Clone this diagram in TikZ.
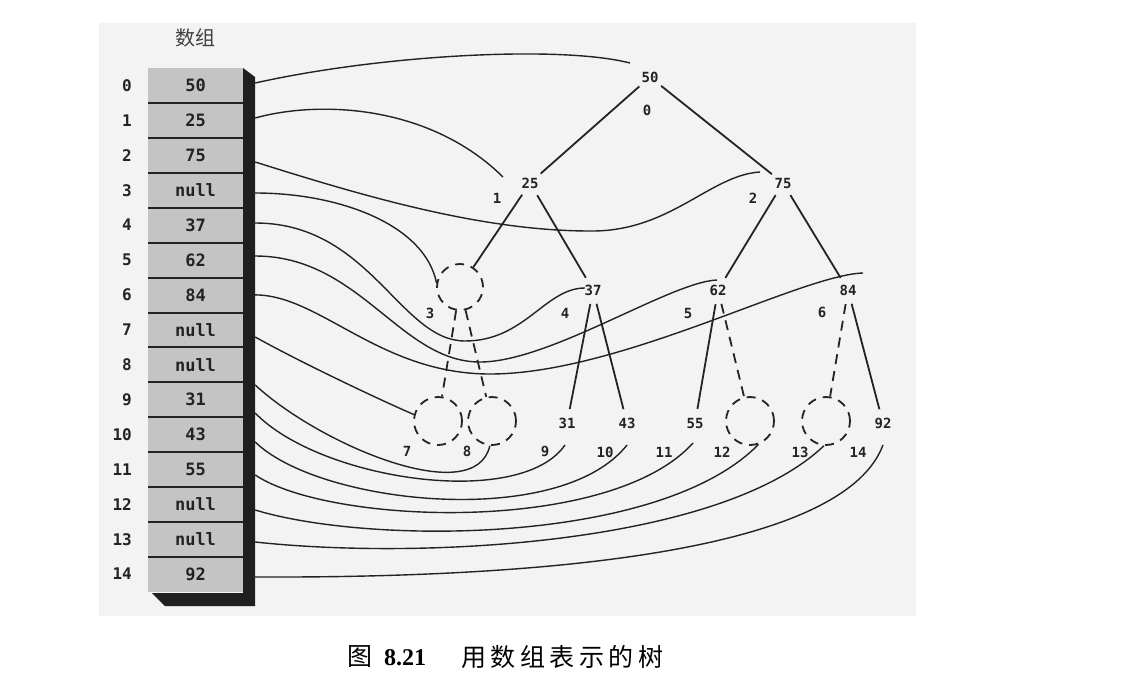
\documentclass[tikz,border=0pt]{standalone}
\usepackage{fontspec}
\setmainfont{Liberation Serif}
\newfontfamily\cjk{Noto Sans CJK SC}
\newfontfamily\monof{DejaVu Sans Mono}
\usetikzlibrary{calc}
\definecolor{bggray}{RGB}{243,243,243}
\definecolor{cellgray}{RGB}{196,196,196}
\definecolor{ink}{RGB}{35,35,35}
\begin{document}
\begin{tikzpicture}[x=1pt,y=-1pt,
  cell/.style={rectangle, fill=cellgray, draw=none, minimum width=95pt, minimum height=34.9pt, inner sep=0pt,
    font=\monof\bfseries\fontsize{17}{17}\selectfont, text=ink},
  idx/.style={anchor=east, inner sep=0pt, font=\monof\bfseries\fontsize{16}{16}\selectfont, text=ink},
  tnum/.style={circle, minimum size=28pt, inner sep=0pt, font=\monof\bfseries\fontsize{14}{14}\selectfont, text=ink},
  tidx/.style={inner sep=0pt, font=\monof\bfseries\fontsize{14}{14}\selectfont, text=ink},
  nullc/.style={circle, draw=ink, line width=1.8pt, dash pattern=on 9pt off 7pt, minimum size=46pt, inner sep=0pt},
  tedge/.style={draw=ink, line width=1.8pt},
  dedge/.style={draw=ink, line width=1.8pt, dash pattern=on 10pt off 7pt},
  link/.style={draw=ink, line width=1.4pt}]
\useasboundingbox (0,0) rectangle (1146,680);
\fill[white] (0,0) rectangle (1146,680);
\fill[bggray] (99,23) rectangle (916,616);

% header
\node[font=\cjk\fontsize{20}{20}\selectfont, text=black!75] (hdr) at (195,38) {数组};

% array cells
\foreach \v [count=\i from 0] in {50,25,75,null,37,62,84,null,null,31,43,55,null,null,92}{
  \node[cell] (c\i) at (195.5,{85.5+34.9*\i}) {\v};
  \node[idx] (i\i) at (132,{85.5+34.9*\i}) {\i};
}
\foreach \i in {0,...,13}{
  \draw[line width=2pt, ink] (c\i.south west) -- (c\i.south east);
}
% 3D shadow band
\fill[black!88] (243,68) -- (255,77) -- (255,606) -- (165,606) -- (152,593) -- (243,593) -- cycle;

% tree nodes
\node[tnum] (n0) at (650,77) {50};
\node[tnum] (n1) at (530,183) {25};
\node[tnum] (n2) at (783,183) {75};
\node[nullc] (n3) at (460,287) {};
\node[tnum] (n4) at (593,290) {37};
\node[tnum] (n5) at (718,290) {62};
\node[tnum] (n6) at (848,290) {84};
\node[nullc, minimum size=48pt] (n7) at (438,421) {};
\node[nullc, minimum size=48pt] (n8) at (492,421) {};
\node[tnum] (n9) at (567,423) {31};
\node[tnum] (n10) at (627,423) {43};
\node[tnum] (n11) at (695,423) {55};
\node[nullc, minimum size=48pt] (n12) at (750,421) {};
\node[nullc, minimum size=48pt] (n13) at (826,421) {};
\node[tnum] (n14) at (883,423) {92};

% tree index labels
\node[tidx] (t0) at (647,110) {0};
\node[tidx] (t1) at (497,198) {1};
\node[tidx] (t2) at (753,198) {2};
\node[tidx] (t3) at (430,313) {3};
\node[tidx] (t4) at (565,313) {4};
\node[tidx] (t5) at (688,313) {5};
\node[tidx] (t6) at (822,312) {6};
\node[tidx] (t7) at (407,451) {7};
\node[tidx] (t8) at (467,451) {8};
\node[tidx] (t9) at (545,451) {9};
\node[tidx] (t10) at (605,452) {10};
\node[tidx] (t11) at (664,452) {11};
\node[tidx] (t12) at (722,452) {12};
\node[tidx] (t13) at (800,452) {13};
\node[tidx] (t14) at (858,452) {14};

% tree edges
\draw[tedge] (n0) -- (n1);
\draw[tedge] (n0) -- (n2);
\draw[tedge] (n1) -- (n3);
\draw[tedge] (n1) -- (n4);
\draw[tedge] (n2) -- (n5);
\draw[tedge] (n2) -- (n6);
\draw[tedge] (n4) -- (n9);
\draw[tedge] (n4) -- (n10);
\draw[tedge] (n5) -- (n11);
\draw[tedge] (n6) -- (n14);
\draw[dedge] (n3) -- (n7);
\draw[dedge] (n3) -- (n8);
\draw[dedge] (n5) -- (n12);
\draw[dedge] (n6) -- (n13);

% links from array to tree
\draw[link] ($(c0.east)+(12,-2.5)$) .. controls (380,55) and (560,45) .. ($(n0)+(-20,-14)$);
\draw[link] ($(c1.east)+(12,-2.4)$) .. controls (320,100) and (430,105) .. ($(n1)+(-27,-6)$);
\draw[link] ($(c2.east)+(12,6.7)$) .. controls (360,195) and (480,231) .. (590,231)
   .. controls (670,232) and (710,175) .. ($(n2)+(-23,-11)$);
\draw[link] ($(c3.east)+(12,2.8)$) .. controls (340,193) and (425,225) .. (n3.170);
\draw[link] ($(c4.east)+(12,-2.1)$) .. controls (370,223) and (400,341) .. (465,341)
   .. controls (525,341) and (545,288) .. ($(n4)+(-8,-2)$);
\draw[link] ($(c5.east)+(12,-4)$) .. controls (360,256) and (400,362) .. (480,362)
   .. controls (550,362) and (670,282) .. ($(n5)+(-1,-10)$);
\draw[link] ($(c6.east)+(12,0)$) .. controls (320,295) and (380,374) .. (490,374)
   .. controls (620,374) and (800,275) .. ($(n6)+(15,-17)$);
\draw[link] ($(c7.east)+(12,7.2)$) .. controls (300,362) and (380,400) .. (n7.165);
\draw[link] ($(c8.east)+(12,20.3)$) .. controls (320,445) and (475,510) .. (n8.265);
\draw[link] ($(c9.east)+(12,13.4)$) .. controls (320,480) and (520,510) .. ($(n9)+(-2,22)$);
\draw[link] ($(c10.east)+(12,7.5)$) .. controls (320,505) and (560,530) .. ($(n10)+(0,22)$);
\draw[link] ($(c11.east)+(12,5.6)$) .. controls (330,525) and (610,535) .. ($(n11)+(-2,20)$);
\draw[link] ($(c12.east)+(12,5.7)$) .. controls (370,545) and (660,545) .. (n12.290);
\draw[link] ($(c13.east)+(12,2.8)$) .. controls (420,560) and (720,545) .. (n13.265);
\draw[link] ($(c14.east)+(12,2.9)$) .. controls (500,578) and (840,560) .. ($(n14)+(0,22)$);

% caption
\node[font=\cjk\fontsize{25}{25}\selectfont] (cap1) at (360,657) {图};
\node[font=\bfseries\fontsize{24}{24}\selectfont] (cap2) at (405,658) {8.21};
\node[font=\cjk\fontsize{25}{25}\selectfont] (cap3) at (562,657)
  {用\hspace{4.5pt}数\hspace{4.5pt}组\hspace{4.5pt}表\hspace{4.5pt}示\hspace{4.5pt}的\hspace{4.5pt}树};
\end{tikzpicture}
\end{document}
